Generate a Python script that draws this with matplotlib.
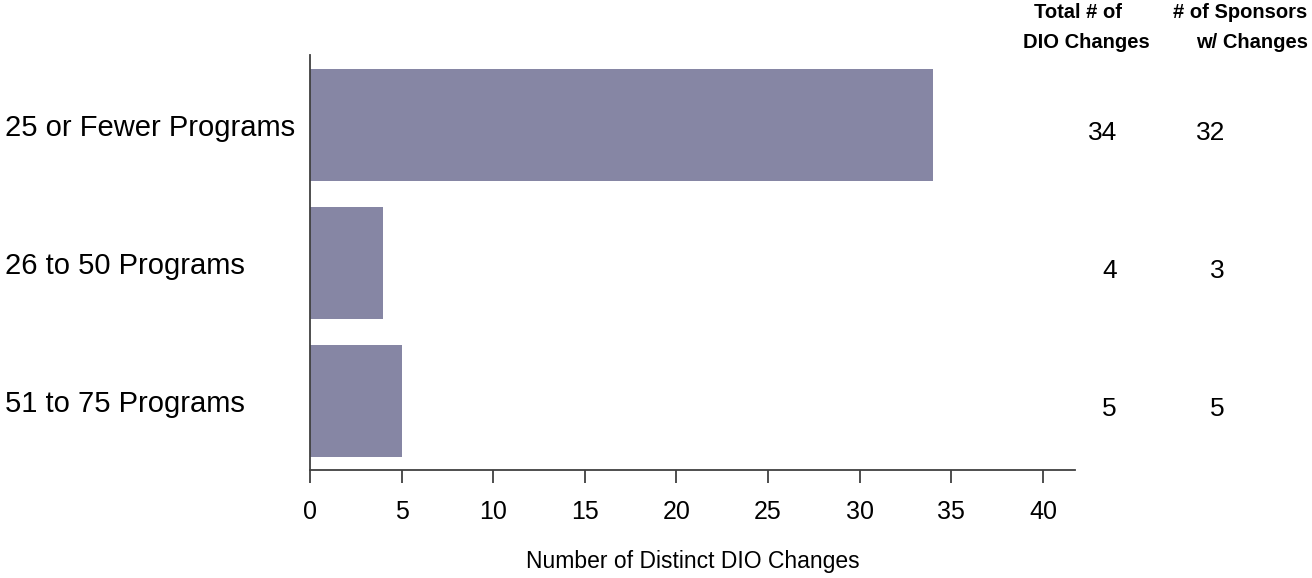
import matplotlib.pyplot as plt
import matplotlib.transforms as mtransforms

plt.rcParams['font.family'] = ['Liberation Sans', 'DejaVu Sans']

# Données
categories = ["25 or Fewer Programs", "26 to 50 Programs", "51 to 75 Programs"]
total_changes = [34, 4, 5]
sponsors_changes = [32, 3, 5]
header_total = ["Total # of", "DIO Changes"]
header_sponsors = ["# of Sponsors", "w/ Changes"]
xticks = [0, 5, 10, 15, 20, 25, 30, 35, 40]

W, H = 1312, 578
fig = plt.figure(figsize=(W / 100, H / 100), dpi=100)
ax = fig.add_axes([310 / W, 1 - 470 / H, 765 / W, 415 / H])

y = list(range(len(categories)))
ax.barh(y, total_changes, height=0.81, color='#8686a4')

ax.set_xlim(0, 41.75)
ax.set_ylim(2.5, -0.507)

# Axes: seulement gauche et bas
ax.spines['top'].set_visible(False)
ax.spines['right'].set_visible(False)
for s in ['left', 'bottom']:
    ax.spines[s].set_color('#404040')
    ax.spines[s].set_linewidth(1.3)

ax.set_yticks([])
ax.set_xticks(xticks)
ax.tick_params(axis='x', direction='out', length=9.5, width=1.3, color='#404040',
               labelsize=18, pad=12)
ax.set_xlabel("Number of Distinct DIO Changes", fontsize=16.5, labelpad=19)

# Libellés des catégories (alignés à gauche du bord de la figure)
trans = mtransforms.blended_transform_factory(fig.transFigure, ax.transData)
for yi, cat in zip(y, categories):
    ax.text(5 / W, yi + 0.02, cat, transform=trans, ha='left', va='center', fontsize=21)

# Colonnes de valeurs
for yi, t, s in zip(y, total_changes, sponsors_changes):
    ax.text(1117 / W, yi + 0.06, str(t), transform=trans, ha='right', va='center', fontsize=19)
    ax.text(1225 / W, yi + 0.06, str(s), transform=trans, ha='right', va='center', fontsize=19)

# En-têtes des colonnes
fig.text(1078 / W, 1 - 13 / H, header_total[0], ha='center', va='center', fontsize=14.5, fontweight='bold')
fig.text(1086 / W, 1 - 42 / H, header_total[1], ha='center', va='center', fontsize=14.5, fontweight='bold')
fig.text(1307 / W, 1 - 13 / H, header_sponsors[0], ha='right', va='center', fontsize=14.5, fontweight='bold')
fig.text(1308 / W, 1 - 42 / H, header_sponsors[1], ha='right', va='center', fontsize=14.5, fontweight='bold')

fig.savefig("out.png", dpi=100)
